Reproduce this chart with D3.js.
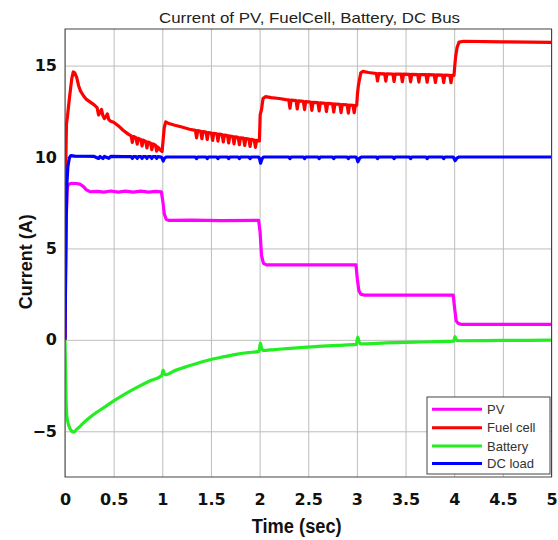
<!DOCTYPE html>
<html>
<head>
<meta charset="utf-8">
<script src="https://cdn.jsdelivr.net/npm/d3@7"></script>
<style>
  html, body { margin: 0; padding: 0; background: #fff; }
  svg { display: block; }
</style>
</head>
<body>
<div id="chart"></div>
<script>
// values: [time (s), current (A)]
const pv = [
  [0, 0], [0.006, 3.5], [0.014, 6.8], [0.022, 8.2], [0.032, 8.5], [0.07, 8.56], [0.12, 8.55],
  [0.16, 8.5], [0.19, 8.38], [0.22, 8.2], [0.26, 8.1], [0.33, 8.12], [0.4, 8.08], [0.47, 8.14],
  [0.55, 8.08], [0.62, 8.13], [0.7, 8.08], [0.78, 8.13], [0.86, 8.08], [0.93, 8.12], [0.99, 8.1],
  [1.005, 7.6], [1.02, 6.9], [1.04, 6.6], [1.07, 6.53], [1.3, 6.55], [1.6, 6.52], [1.99, 6.53],
  [2.005, 5.9], [2.02, 4.6], [2.04, 4.18], [2.07, 4.1], [2.5, 4.1], [2.99, 4.1],
  [3.005, 3.3], [3.02, 2.7], [3.04, 2.5], [3.07, 2.45], [3.5, 2.45], [3.99, 2.45],
  [4.005, 1.7], [4.02, 1.05], [4.04, 0.9], [4.07, 0.85], [4.5, 0.85], [5, 0.85]
];

const fuelCell = [
  [0, 0], [0.006, 9], [0.015, 11.8], [0.025, 12.2], [0.045, 13.2], [0.07, 14.3], [0.085, 14.65],
  [0.1, 14.6], [0.12, 14.35], [0.14, 13.9], [0.16, 13.6], [0.19, 13.35], [0.22, 13.15], [0.26, 13.0],
  [0.3, 12.85], [0.33, 12.7], [0.345, 12.3], [0.36, 12.45], [0.375, 12.6], [0.39, 12.25], [0.405, 12.1],
  [0.42, 12.2], [0.435, 12.35], [0.45, 12.05], [0.47, 11.95], [0.5, 11.9], [0.55, 11.7], [0.6, 11.45],
  [0.65, 11.25],
  [0.68, 11.15], [0.692, 10.8], [0.704, 11.12],
  [0.73, 11.05], [0.742, 10.7], [0.754, 11.02],
  [0.78, 10.95], [0.792, 10.6], [0.804, 10.92],
  [0.83, 10.85], [0.842, 10.5], [0.854, 10.82],
  [0.88, 10.75], [0.892, 10.4], [0.904, 10.72],
  [0.93, 10.65], [0.942, 10.32], [0.954, 10.55],
  [0.98, 10.38], [0.998, 10.3],
  [1.008, 10.9], [1.02, 11.6], [1.035, 11.92], [1.06, 11.85], [1.12, 11.75], [1.2, 11.64], [1.28, 11.52],
  [1.34, 11.46], [1.352, 11.05], [1.364, 11.44],
  [1.395, 11.41], [1.407, 11.0], [1.419, 11.39],
  [1.45, 11.36], [1.462, 10.96], [1.474, 11.34],
  [1.505, 11.31], [1.517, 10.91], [1.529, 11.29],
  [1.56, 11.27], [1.572, 10.87], [1.584, 11.25],
  [1.615, 11.22], [1.627, 10.82], [1.639, 11.2],
  [1.67, 11.17], [1.682, 10.77], [1.694, 11.15],
  [1.725, 11.12], [1.737, 10.72], [1.749, 11.1],
  [1.78, 11.07], [1.792, 10.67], [1.804, 11.05],
  [1.835, 11.03], [1.847, 10.63], [1.859, 11.01],
  [1.89, 10.98], [1.902, 10.58], [1.914, 10.96],
  [1.945, 10.93], [1.957, 10.53], [1.969, 10.91],
  [1.998, 10.88],
  [2.006, 12.3], [2.02, 12.6], [2.035, 13.2], [2.06, 13.3], [2.12, 13.25], [2.2, 13.2], [2.27, 13.14],
  [2.3, 13.12], [2.312, 12.67], [2.324, 13.11],
  [2.375, 13.08], [2.387, 12.63], [2.399, 13.07],
  [2.45, 13.04], [2.462, 12.59], [2.474, 13.03],
  [2.525, 13.0], [2.537, 12.55], [2.549, 12.99],
  [2.6, 12.97], [2.612, 12.52], [2.624, 12.96],
  [2.675, 12.94], [2.687, 12.49], [2.699, 12.93],
  [2.75, 12.91], [2.762, 12.46], [2.774, 12.9],
  [2.825, 12.88], [2.837, 12.43], [2.849, 12.87],
  [2.9, 12.85], [2.912, 12.4], [2.924, 12.84],
  [2.96, 12.83], [2.972, 12.42], [2.984, 12.82],
  [2.998, 12.82],
  [3.005, 13.4], [3.015, 13.9], [3.025, 14.2], [3.04, 14.6], [3.06, 14.68], [3.12, 14.62], [3.18, 14.58],
  [3.2, 14.56], [3.212, 14.16], [3.224, 14.56],
  [3.285, 14.55], [3.297, 14.15], [3.309, 14.55],
  [3.37, 14.54], [3.382, 14.13], [3.394, 14.54],
  [3.455, 14.53], [3.467, 14.12], [3.479, 14.53],
  [3.54, 14.52], [3.552, 14.11], [3.564, 14.52],
  [3.625, 14.51], [3.637, 14.1], [3.649, 14.51],
  [3.71, 14.5], [3.722, 14.09], [3.734, 14.5],
  [3.795, 14.49], [3.807, 14.08], [3.819, 14.49],
  [3.88, 14.48], [3.892, 14.07], [3.904, 14.48],
  [3.955, 14.47], [3.967, 14.06], [3.979, 14.47],
  [3.998, 14.46],
  [4.006, 15.0], [4.015, 15.5], [4.03, 16.0], [4.05, 16.28], [4.1, 16.33], [4.5, 16.3], [5, 16.27]
];

const battery = [
  [0, 0], [0.005, -1.5], [0.012, -3.5], [0.02, -4.2], [0.04, -4.7], [0.07, -5.0], [0.09, -5.05],
  [0.12, -4.9], [0.16, -4.7], [0.22, -4.4], [0.29, -4.1], [0.4, -3.7], [0.5, -3.34], [0.62, -2.95],
  [0.74, -2.6], [0.87, -2.25], [0.995, -1.95], [1.008, -1.65], [1.02, -1.85], [1.035, -1.9],
  [1.12, -1.7], [1.25, -1.46], [1.38, -1.25], [1.51, -1.06], [1.64, -0.92], [1.76, -0.79],
  [1.88, -0.7], [1.995, -0.63], [2.008, -0.18], [2.02, -0.45], [2.035, -0.58], [2.15, -0.53],
  [2.28, -0.48], [2.45, -0.41], [2.6, -0.36], [2.8, -0.3], [2.995, -0.25], [3.008, 0.15],
  [3.022, -0.1], [3.04, -0.22], [3.3, -0.17], [3.6, -0.12], [3.995, -0.07], [4.008, 0.18],
  [4.025, -0.03], [4.05, -0.05], [4.5, -0.03], [5, -0.02]
];

const dcLoad = [
  [0, 0], [0.005, 3], [0.012, 6.5], [0.02, 8.6], [0.03, 9.5], [0.045, 9.95], [0.06, 10.08],
  [0.1, 10.05], [0.2, 10.04], [0.3, 10.03], [0.345, 9.92], [0.36, 10.03], [0.39, 9.92], [0.405, 10.03],
  [0.45, 9.93], [0.47, 10.03], [0.6, 10.02],
  [0.68, 10.02], [0.692, 9.92], [0.704, 10.02], [0.73, 10.02], [0.742, 9.92], [0.754, 10.02],
  [0.78, 10.02], [0.792, 9.92], [0.804, 10.02], [0.83, 10.02], [0.842, 9.92], [0.854, 10.02],
  [0.88, 10.02], [0.892, 9.92], [0.904, 10.02], [0.93, 10.02], [0.942, 9.92], [0.954, 10.02],
  [0.99, 10.0], [1.0, 9.9], [1.01, 9.78], [1.02, 9.92], [1.04, 10.0], [1.3, 10.0],
  [1.34, 10.0], [1.352, 9.91], [1.364, 10.0], [1.45, 10.0], [1.462, 9.91], [1.474, 10.0],
  [1.56, 10.0], [1.572, 9.91], [1.584, 10.0], [1.67, 10.0], [1.682, 9.91], [1.694, 10.0],
  [1.78, 10.0], [1.792, 9.91], [1.804, 10.0], [1.89, 10.0], [1.902, 9.91], [1.914, 10.0],
  [1.99, 10.0], [2.0, 9.88], [2.01, 9.66], [2.025, 9.9], [2.04, 10.0],
  [2.3, 10.0], [2.312, 9.91], [2.324, 10.0], [2.45, 10.0], [2.462, 9.91], [2.474, 10.0],
  [2.6, 10.0], [2.612, 9.91], [2.624, 10.0], [2.75, 10.0], [2.762, 9.91], [2.774, 10.0],
  [2.9, 10.0], [2.912, 9.91], [2.924, 10.0],
  [2.99, 10.0], [3.0, 9.9], [3.01, 9.74], [3.03, 9.95], [3.05, 10.0],
  [3.2, 10.0], [3.212, 9.91], [3.224, 10.0], [3.37, 10.0], [3.382, 9.91], [3.394, 10.0],
  [3.54, 10.0], [3.552, 9.91], [3.564, 10.0], [3.71, 10.0], [3.722, 9.91], [3.734, 10.0],
  [3.88, 10.0], [3.892, 9.91], [3.904, 10.0],
  [3.99, 10.0], [4.0, 9.9], [4.01, 9.8], [4.03, 9.95], [4.05, 10.0], [4.5, 10.0], [5, 10.0]
];

const seriesNames = ["PV", "Fuel cell", "Battery", "DC load"];
const seriesColors = ["#ff00ff", "#ff0000", "#22ee22", "#0000ff"];
const xTicks = [0, 0.5, 1, 1.5, 2, 2.5, 3, 3.5, 4, 4.5, 5];
const yTicks = [-5, 0, 5, 10, 15];
const xDomain = [0, 5];
const yDomain = [-7.5, 17];

const width = 558;
const height = 540;
const margin = { top: 29, right: 6.5, bottom: 63, left: 65 };

const svg = d3.select("#chart").append("svg").attr("width", width).attr("height", height);

const x = d3.scaleLinear().domain(xDomain).range([margin.left, width - margin.right]);
const y = d3.scaleLinear().domain(yDomain).range([height - margin.bottom, margin.top]);

// grid
svg.append("g").attr("transform", `translate(0,${height - margin.bottom})`)
  .call(d3.axisBottom(x).tickValues(xTicks).tickSize(-(height - margin.top - margin.bottom)).tickFormat(""))
  .call((g) => g.select(".domain").remove())
  .call((g) => g.selectAll("line").attr("stroke", "#bdbdbd").attr("stroke-width", 1));
svg.append("g").attr("transform", `translate(${margin.left},0)`)
  .call(d3.axisLeft(y).tickValues(yTicks).tickSize(-(width - margin.left - margin.right)).tickFormat(""))
  .call((g) => g.select(".domain").remove())
  .call((g) => g.selectAll("line").attr("stroke", "#bdbdbd").attr("stroke-width", 1));

svg.append("clipPath").attr("id", "plot-clip").append("rect")
  .attr("x", margin.left).attr("y", margin.top)
  .attr("width", width - margin.left - margin.right).attr("height", height - margin.top - margin.bottom);

const line = d3.line().x((d) => x(d[0])).y((d) => y(d[1]));
const smoothLine = d3.line().x((d) => x(d[0])).y((d) => y(d[1])).curve(d3.curveMonotoneX);
const allSeries = [pv, fuelCell, battery, dcLoad];
const plot = svg.append("g").attr("clip-path", "url(#plot-clip)");
allSeries.forEach((s, i) => {
  plot.append("path").datum(s).attr("fill", "none").attr("stroke", seriesColors[i])
    .attr("stroke-width", 3.2).attr("stroke-linejoin", "round")
    .attr("d", s === battery ? smoothLine : line);
});

// box
svg.append("rect").attr("x", margin.left).attr("y", margin.top)
  .attr("width", width - margin.left - margin.right).attr("height", height - margin.top - margin.bottom)
  .attr("fill", "none").attr("stroke", "#444").attr("stroke-width", 1);

// tick labels
svg.append("g").attr("transform", `translate(0,${height - margin.bottom})`)
  .call(d3.axisBottom(x).tickValues(xTicks).tickSize(0).tickPadding(17).tickFormat((d) => String(d)))
  .call((g) => g.select(".domain").remove())
  .call((g) => g.selectAll("text").attr("font-family", "DejaVu Sans").attr("font-weight", "bold")
    .attr("font-size", 16).attr("fill", "#111"));
svg.append("g").attr("transform", `translate(${margin.left},0)`)
  .call(d3.axisLeft(y).tickValues(yTicks).tickSize(0).tickPadding(8).tickFormat(d3.format("d")))
  .call((g) => g.select(".domain").remove())
  .call((g) => g.selectAll("text").attr("font-family", "DejaVu Sans").attr("font-weight", "bold")
    .attr("font-size", 16).attr("fill", "#111"));

// title and axis labels
svg.append("text").attr("x", 309.5).attr("y", 23).attr("text-anchor", "middle")
  .attr("font-family", "Liberation Sans, Arial, sans-serif").attr("font-size", 15).attr("fill", "#222")
  .attr("textLength", 301).attr("lengthAdjust", "spacingAndGlyphs")
  .text("Current of PV, FuelCell, Battery, DC Bus");
svg.append("text").attr("x", 296.7).attr("y", 533).attr("text-anchor", "middle")
  .attr("font-family", "Liberation Sans, Arial, sans-serif").attr("font-weight", "bold").attr("font-size", 20)
  .attr("fill", "#111").attr("textLength", 90).attr("lengthAdjust", "spacingAndGlyphs")
  .text("Time (sec)");
svg.append("text").attr("transform", "translate(32,261.7) rotate(-90)").attr("text-anchor", "middle")
  .attr("font-family", "Liberation Sans, Arial, sans-serif").attr("font-weight", "bold").attr("font-size", 18)
  .attr("fill", "#111").text("Current (A)");

// legend
const legend = svg.append("g");
legend.append("rect").attr("x", 427).attr("y", 397).attr("width", 123).attr("height", 77)
  .attr("fill", "#fff").attr("stroke", "#444").attr("stroke-width", 1);
const rowY = [409.3, 427.7, 446, 463.5];
seriesNames.forEach((name, i) => {
  legend.append("line").attr("x1", 432).attr("x2", 482).attr("y1", rowY[i]).attr("y2", rowY[i])
    .attr("stroke", seriesColors[i]).attr("stroke-width", 3);
  legend.append("text").attr("x", 487).attr("y", rowY[i] + 4.5)
    .attr("font-family", "Liberation Sans, Arial, sans-serif").attr("font-size", 13).attr("fill", "#333")
    .text(name);
});
</script>
</body>
</html>
